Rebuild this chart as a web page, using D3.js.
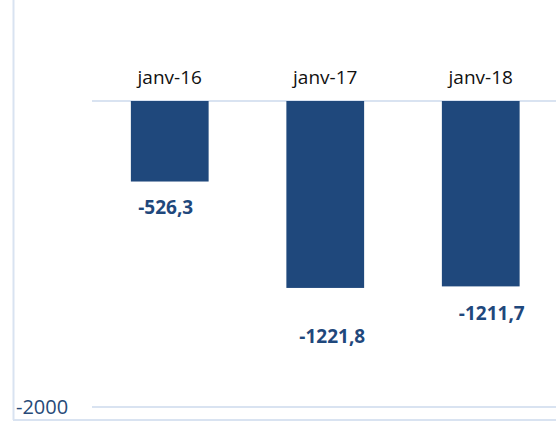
<!DOCTYPE html>
<html>
<head>
<meta charset="utf-8">
<script src="https://cdn.jsdelivr.net/npm/d3@7"></script>
<style>
  body { margin: 0; background: #fff; }
  text { font-family: "Open Sans", "Liberation Sans", sans-serif; }
</style>
</head>
<body>
<svg id="root" width="556" height="423"></svg>
<script>
const categories = ['janv-16', 'janv-17', 'janv-18'];
const values = [-526.3, -1221.8, -1211.7];
const valueLabels = ['-526,3', '-1221,8', '-1211,7'];
const yTicks = [-2000];

// hand placed label nudges, like the original sheet
const labelDx = [-4, 7, 11];
const labelDy = [32, 55, 34];

const root = d3.select('#root');
const svgWidth = +root.attr('width');
const svgHeight = +root.attr('height');

const barColor = '#1f487c';
const gridColor = '#d9e3f1';

const x = d3.scaleBand().domain(categories).range([92, 558.5]).paddingInner(0.5).paddingOuter(0.25);
const y = d3.scaleLinear().domain([0, -2000]).range([101, 407]);

// chart frame (left and bottom edges show)
root.append('line')
  .attr('x1', 13.5).attr('x2', 13.5).attr('y1', 0).attr('y2', 420)
  .attr('stroke', gridColor).attr('stroke-width', 2);
root.append('line')
  .attr('x1', 13).attr('x2', svgWidth).attr('y1', 420).attr('y2', 420)
  .attr('stroke', gridColor).attr('stroke-width', 2);

// gridlines
root.selectAll('.grid')
  .data([0].concat(yTicks))
  .enter()
  .append('line')
  .attr('class', 'grid')
  .attr('x1', 92).attr('x2', svgWidth)
  .attr('y1', d => y(d)).attr('y2', d => y(d))
  .attr('stroke', gridColor).attr('stroke-width', 2);

// tick labels
root.selectAll('.tick-label')
  .data(yTicks)
  .enter()
  .append('text')
  .attr('x', 16)
  .attr('y', d => y(d) + 7)
  .attr('font-size', 20)
  .attr('fill', '#284a78')
  .text(d => d);

// bars
root.selectAll('rect.bar')
  .data(values)
  .enter()
  .append('rect')
  .attr('class', 'bar')
  .attr('x', (d, i) => x(categories[i]))
  .attr('y', y(0))
  .attr('width', x.bandwidth())
  .attr('height', d => y(d) - y(0))
  .attr('fill', barColor);

// category labels
root.selectAll('.cat')
  .data(categories)
  .enter()
  .append('text')
  .attr('class', 'cat')
  .attr('x', d => x(d) + x.bandwidth() / 2)
  .attr('y', 84)
  .attr('text-anchor', 'middle')
  .attr('font-size', 19)
  .attr('fill', '#111')
  .text(d => d);

// value labels
root.selectAll('.val')
  .data(values)
  .enter()
  .append('text')
  .attr('class', 'val')
  .attr('x', (d, i) => x(categories[i]) + x.bandwidth() / 2 + labelDx[i])
  .attr('y', (d, i) => y(d) + labelDy[i])
  .attr('text-anchor', 'middle')
  .attr('font-size', 19)
  .attr('font-weight', 'bold')
  .attr('fill', barColor)
  .text((d, i) => valueLabels[i]);
</script>
</body>
</html>
